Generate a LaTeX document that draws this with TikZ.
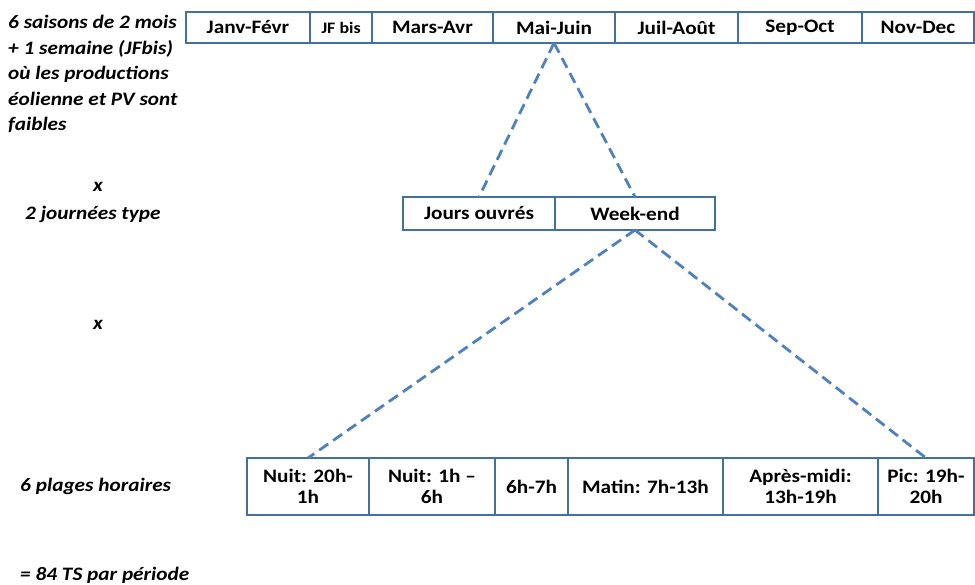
\documentclass[tikz,border=0pt]{standalone}
\usepackage{fontspec}
\setmainfont{Carlito}[FakeStretch=1.12]
\usetikzlibrary{positioning}
\definecolor{boxblue}{RGB}{65,113,156}
\definecolor{lineblue}{RGB}{79,129,189}
\tikzset{
  cell/.style={draw=boxblue, line width=1.6pt, outer sep=0pt, inner sep=1pt,
    minimum height=31pt, align=center, font=\fontsize{19}{21}\selectfont\bfseries},
  lbl/.style={inner sep=0pt, align=left, font=\fontsize{19}{25.5}\selectfont\bfseries\itshape},
  link/.style={lineblue, line width=2.8pt, dash pattern=on 11pt off 6pt}
}

\begin{document}
\begin{tikzpicture}[x=1pt, y=-1pt]
    \useasboundingbox (0,0) rectangle (975,585);

    % Saisons (ligne du haut)
    \node[cell, minimum width=124pt] (janv) at (248,27.5) {Janv-Févr};
    \node[cell, minimum width=62pt, font=\fontsize{16}{18}\selectfont\bfseries] (jfbis) at (341,27.5) {JF bis};
    \node[cell, minimum width=121pt] (mars) at (432.5,27.5) {Mars-Avr};
    \node[cell, minimum width=122pt] (mai) at (554,27.5) {Mai-Juin};
    \node[cell, minimum width=123pt] (juil) at (676.5,27.5) {Juil-Août};
    \node[cell, minimum width=124pt] (sep) at (800,27.5) {Sep-Oct};
    \node[cell, minimum width=112pt] (nov) at (918,27.5) {Nov-Dec};

    % Journées type
    \node[cell, minimum width=152pt, minimum height=33pt] (ouvres) at (479,213.5) {Jours ouvrés};
    \node[cell, minimum width=160pt, minimum height=33pt] (weekend) at (635,213.5) {Week-end};

    % Plages horaires
    \node[cell, minimum width=122pt, minimum height=57pt] (nuitA) at (308,486.5) {Nuit: 20h-\\1h};
    \node[cell, minimum width=126pt, minimum height=57pt] (nuitB) at (432,486.5) {Nuit: 1h --\\6h};
    \node[cell, minimum width=73pt, minimum height=57pt] (sixsept) at (531.5,486.5) {6h-7h};
    \node[cell, minimum width=155pt, minimum height=57pt] (matin) at (645.5,486.5) {Matin: 7h-13h};
    \node[cell, minimum width=155pt, minimum height=57pt] (apres) at (800.5,486.5) {Après-midi:\\13h-19h};
    \node[cell, minimum width=96pt, minimum height=57pt] (pic) at (926,486.5) {Pic: 19h-\\20h};

    % Liens pointillés
    \draw[link] (mai.south) -- (ouvres.north);
    \draw[link] (mai.south) -- (weekend.north);
    \draw[link] (weekend.south) -- (nuitA.north);
    \draw[link] (weekend.south) -- (pic.north);

    % Textes de gauche
    \node[lbl, anchor=north west] (saisons) at (8,15) {6 saisons de 2 mois\\+ 1 semaine (JFbis)\\où les productions\\éolienne et PV sont\\faibles};
    \node[lbl, anchor=base] (foisA) at (98,192) {x};
    \node[lbl, anchor=base west] (journees) at (25,220) {2 journées type};
    \node[lbl, anchor=base] (foisB) at (98,330) {x};
    \node[lbl, anchor=base west] (plages) at (20,491) {6 plages horaires};
    \node[lbl, anchor=base west] (total) at (20,580) {= 84 TS par période};
\end{tikzpicture}
\end{document}
